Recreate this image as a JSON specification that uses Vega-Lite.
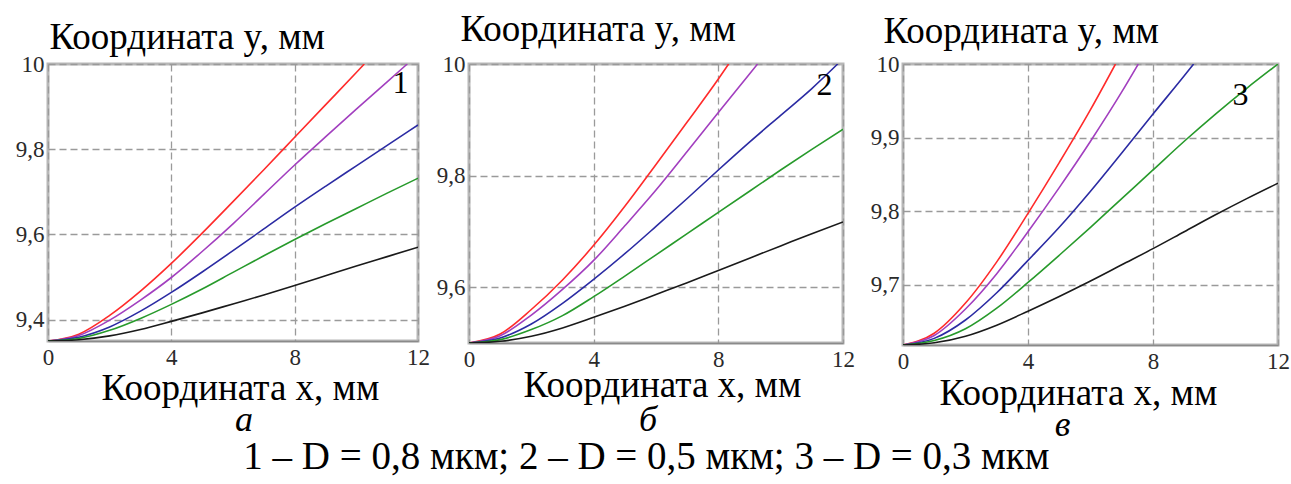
{
  "$schema": "https://vega.github.io/schema/vega-lite/v6.json",
  "autosize": {"type": "none"},
  "padding": {"left": 48, "top": 64, "right": 1243, "bottom": 420},
  "background": "white",
  "config": {
    "font": "Liberation Serif",
    "view": {"stroke": "#b8b8b8", "strokeWidth": 3},
    "axis": {
      "grid": true, "gridColor": "#9a9a9a", "gridDash": [7, 4], "gridWidth": 1.3,
      "ticks": false, "domain": false, "labelFlush": false, "labelOverlap": false,
      "labelFont": "Liberation Serif", "labelFontSize": 23, "labelColor": "#2a2a2a",
      "titleFont": "Liberation Serif", "titleFontSize": 37, "titleFontWeight": "normal", "titleColor": "#000000"
    },
    "axisX": {"domain": true, "domainColor": "#8a8a8a", "domainWidth": 1.5, "labelPadding": 5, "titleAlign": "center", "titleBaseline": "alphabetic", "titleAngle": 0},
    "axisY": {"labelPadding": 4, "titleAngle": 0, "titleAlign": "left", "titleBaseline": "alphabetic"},
    "title": {"font": "Liberation Serif", "fontWeight": "normal", "fontSize": 36, "color": "#000000"},
    "line": {"strokeWidth": 1.6, "interpolate": "monotone"}
  },
  "datasets": {
    "a": [
      {"x": 0, "y": 9.35, "c": "1"}, {"x": 1, "y": 9.366, "c": "1"}, {"x": 2, "y": 9.41, "c": "1"}, {"x": 3, "y": 9.467, "c": "1"}, {"x": 4, "y": 9.532, "c": "1"}, {"x": 5, "y": 9.603, "c": "1"}, {"x": 6, "y": 9.677, "c": "1"}, {"x": 7, "y": 9.752, "c": "1"}, {"x": 8, "y": 9.828, "c": "1"}, {"x": 9, "y": 9.904, "c": "1"}, {"x": 10, "y": 9.98, "c": "1"}, {"x": 10.26, "y": 10, "c": "1"},
      {"x": 0, "y": 9.35, "c": "2"}, {"x": 1, "y": 9.363, "c": "2"}, {"x": 2, "y": 9.399, "c": "2"}, {"x": 3, "y": 9.446, "c": "2"}, {"x": 4, "y": 9.499, "c": "2"}, {"x": 5, "y": 9.56, "c": "2"}, {"x": 6, "y": 9.625, "c": "2"}, {"x": 7, "y": 9.694, "c": "2"}, {"x": 8, "y": 9.763, "c": "2"}, {"x": 9, "y": 9.829, "c": "2"}, {"x": 10, "y": 9.894, "c": "2"}, {"x": 11, "y": 9.958, "c": "2"}, {"x": 11.65, "y": 10, "c": "2"},
      {"x": 0, "y": 9.35, "c": "3"}, {"x": 1, "y": 9.359, "c": "3"}, {"x": 2, "y": 9.383, "c": "3"}, {"x": 3, "y": 9.42, "c": "3"}, {"x": 4, "y": 9.464, "c": "3"}, {"x": 5, "y": 9.512, "c": "3"}, {"x": 6, "y": 9.562, "c": "3"}, {"x": 7, "y": 9.613, "c": "3"}, {"x": 8, "y": 9.664, "c": "3"}, {"x": 9, "y": 9.713, "c": "3"}, {"x": 10, "y": 9.761, "c": "3"}, {"x": 11, "y": 9.809, "c": "3"}, {"x": 12, "y": 9.857, "c": "3"},
      {"x": 0, "y": 9.35, "c": "4"}, {"x": 1, "y": 9.356, "c": "4"}, {"x": 2, "y": 9.375, "c": "4"}, {"x": 3, "y": 9.403, "c": "4"}, {"x": 4, "y": 9.436, "c": "4"}, {"x": 5, "y": 9.472, "c": "4"}, {"x": 6, "y": 9.511, "c": "4"}, {"x": 7, "y": 9.55, "c": "4"}, {"x": 8, "y": 9.588, "c": "4"}, {"x": 9, "y": 9.625, "c": "4"}, {"x": 10, "y": 9.661, "c": "4"}, {"x": 11, "y": 9.697, "c": "4"}, {"x": 12, "y": 9.732, "c": "4"},
      {"x": 0, "y": 9.35, "c": "5"}, {"x": 1, "y": 9.353, "c": "5"}, {"x": 2, "y": 9.362, "c": "5"}, {"x": 3, "y": 9.377, "c": "5"}, {"x": 4, "y": 9.396, "c": "5"}, {"x": 5, "y": 9.416, "c": "5"}, {"x": 6, "y": 9.437, "c": "5"}, {"x": 7, "y": 9.458, "c": "5"}, {"x": 8, "y": 9.48, "c": "5"}, {"x": 9, "y": 9.503, "c": "5"}, {"x": 10, "y": 9.526, "c": "5"}, {"x": 11, "y": 9.548, "c": "5"}, {"x": 12, "y": 9.57, "c": "5"}
    ],
    "b": [
      {"x": 0, "y": 9.5, "c": "1"}, {"x": 1, "y": 9.516, "c": "1"}, {"x": 2, "y": 9.56, "c": "1"}, {"x": 3, "y": 9.613, "c": "1"}, {"x": 4, "y": 9.675, "c": "1"}, {"x": 5, "y": 9.745, "c": "1"}, {"x": 6, "y": 9.82, "c": "1"}, {"x": 7, "y": 9.896, "c": "1"}, {"x": 8, "y": 9.973, "c": "1"}, {"x": 8.33, "y": 10, "c": "1"},
      {"x": 0, "y": 9.5, "c": "2"}, {"x": 1, "y": 9.513, "c": "2"}, {"x": 2, "y": 9.55, "c": "2"}, {"x": 3, "y": 9.596, "c": "2"}, {"x": 4, "y": 9.648, "c": "2"}, {"x": 5, "y": 9.71, "c": "2"}, {"x": 6, "y": 9.774, "c": "2"}, {"x": 7, "y": 9.843, "c": "2"}, {"x": 8, "y": 9.913, "c": "2"}, {"x": 9, "y": 9.982, "c": "2"}, {"x": 9.26, "y": 10, "c": "2"},
      {"x": 0, "y": 9.5, "c": "3"}, {"x": 1, "y": 9.509, "c": "3"}, {"x": 2, "y": 9.534, "c": "3"}, {"x": 3, "y": 9.571, "c": "3"}, {"x": 4, "y": 9.614, "c": "3"}, {"x": 5, "y": 9.66, "c": "3"}, {"x": 6, "y": 9.709, "c": "3"}, {"x": 7, "y": 9.759, "c": "3"}, {"x": 8, "y": 9.81, "c": "3"}, {"x": 9, "y": 9.86, "c": "3"}, {"x": 10, "y": 9.908, "c": "3"}, {"x": 11, "y": 9.956, "c": "3"}, {"x": 11.83, "y": 10, "c": "3"},
      {"x": 0, "y": 9.5, "c": "4"}, {"x": 1, "y": 9.506, "c": "4"}, {"x": 2, "y": 9.524, "c": "4"}, {"x": 3, "y": 9.549, "c": "4"}, {"x": 4, "y": 9.583, "c": "4"}, {"x": 5, "y": 9.62, "c": "4"}, {"x": 6, "y": 9.658, "c": "4"}, {"x": 7, "y": 9.696, "c": "4"}, {"x": 8, "y": 9.734, "c": "4"}, {"x": 9, "y": 9.772, "c": "4"}, {"x": 10, "y": 9.81, "c": "4"}, {"x": 11, "y": 9.847, "c": "4"}, {"x": 12, "y": 9.883, "c": "4"},
      {"x": 0, "y": 9.5, "c": "5"}, {"x": 1, "y": 9.503, "c": "5"}, {"x": 2, "y": 9.512, "c": "5"}, {"x": 3, "y": 9.527, "c": "5"}, {"x": 4, "y": 9.546, "c": "5"}, {"x": 5, "y": 9.566, "c": "5"}, {"x": 6, "y": 9.587, "c": "5"}, {"x": 7, "y": 9.608, "c": "5"}, {"x": 8, "y": 9.63, "c": "5"}, {"x": 9, "y": 9.652, "c": "5"}, {"x": 10, "y": 9.674, "c": "5"}, {"x": 11, "y": 9.696, "c": "5"}, {"x": 12, "y": 9.717, "c": "5"}
    ],
    "c": [
      {"x": 0, "y": 9.618, "c": "1"}, {"x": 1, "y": 9.634, "c": "1"}, {"x": 2, "y": 9.675, "c": "1"}, {"x": 3, "y": 9.731, "c": "1"}, {"x": 4, "y": 9.797, "c": "1"}, {"x": 5, "y": 9.866, "c": "1"}, {"x": 6, "y": 9.938, "c": "1"}, {"x": 6.8, "y": 10, "c": "1"},
      {"x": 0, "y": 9.618, "c": "2"}, {"x": 1, "y": 9.631, "c": "2"}, {"x": 2, "y": 9.667, "c": "2"}, {"x": 3, "y": 9.715, "c": "2"}, {"x": 4, "y": 9.772, "c": "2"}, {"x": 5, "y": 9.832, "c": "2"}, {"x": 6, "y": 9.895, "c": "2"}, {"x": 7, "y": 9.962, "c": "2"}, {"x": 7.53, "y": 10, "c": "2"},
      {"x": 0, "y": 9.618, "c": "3"}, {"x": 1, "y": 9.627, "c": "3"}, {"x": 2, "y": 9.652, "c": "3"}, {"x": 3, "y": 9.689, "c": "3"}, {"x": 4, "y": 9.733, "c": "3"}, {"x": 5, "y": 9.778, "c": "3"}, {"x": 6, "y": 9.827, "c": "3"}, {"x": 7, "y": 9.879, "c": "3"}, {"x": 8, "y": 9.932, "c": "3"}, {"x": 9, "y": 9.984, "c": "3"}, {"x": 9.3, "y": 10, "c": "3"},
      {"x": 0, "y": 9.618, "c": "4"}, {"x": 1, "y": 9.624, "c": "4"}, {"x": 2, "y": 9.64, "c": "4"}, {"x": 3, "y": 9.668, "c": "4"}, {"x": 4, "y": 9.703, "c": "4"}, {"x": 5, "y": 9.74, "c": "4"}, {"x": 6, "y": 9.778, "c": "4"}, {"x": 7, "y": 9.817, "c": "4"}, {"x": 8, "y": 9.856, "c": "4"}, {"x": 9, "y": 9.895, "c": "4"}, {"x": 10, "y": 9.932, "c": "4"}, {"x": 11, "y": 9.967, "c": "4"}, {"x": 12, "y": 10, "c": "4"},
      {"x": 0, "y": 9.618, "c": "5"}, {"x": 1, "y": 9.621, "c": "5"}, {"x": 2, "y": 9.63, "c": "5"}, {"x": 3, "y": 9.645, "c": "5"}, {"x": 4, "y": 9.664, "c": "5"}, {"x": 5, "y": 9.684, "c": "5"}, {"x": 6, "y": 9.705, "c": "5"}, {"x": 7, "y": 9.727, "c": "5"}, {"x": 8, "y": 9.749, "c": "5"}, {"x": 9, "y": 9.772, "c": "5"}, {"x": 10, "y": 9.795, "c": "5"}, {"x": 11, "y": 9.817, "c": "5"}, {"x": 12, "y": 9.838, "c": "5"}
    ]
  },
  "title": {
    "text": "1 – D = 0,8 мкм; 2 – D = 0,5 мкм; 3 – D = 0,3 мкм",
    "orient": "bottom", "anchor": "middle", "fontSize": 39, "offset": -7, "dx": -6
  },
  "spacing": 51,
  "bounds": "flush",
  "hconcat": [
    {
      "width": 370, "height": 277,
      "title": {"text": "а", "orient": "bottom", "fontStyle": "italic", "anchor": "middle", "frame": "group", "dx": 11, "offset": -3},
      "layer": [
        {
          "data": {"name": "a"},
          "mark": {"type": "line", "clip": true},
          "encoding": {
            "x": {"field": "x", "type": "quantitative", "scale": {"domain": [0, 12], "nice": false, "zero": false},
                  "axis": {"values": [0, 4, 8, 12], "title": "Координата x, мм", "titleX": 192, "titleY": 58}},
            "y": {"field": "y", "type": "quantitative", "scale": {"domain": [9.35, 10], "nice": false, "zero": false},
                  "axis": {"values": [9.4, 9.6, 9.8, 10], "labelExpr": "datum.value >= 10 ? '10' : replace(format(datum.value, '.1f'), '.', ',')",
                           "title": "Координата y, мм", "titleX": 1, "titleY": -16}},
            "color": {"field": "c", "type": "nominal", "legend": null,
                      "scale": {"domain": ["1", "2", "3", "4", "5"], "range": ["#ff2b2b", "#a23fbf", "#2b2ba3", "#279a2b", "#1a1a1a"]}},
            "detail": {"field": "c"}
          }
        },
        {
          "data": {"values": [{"x": 11.43, "y": 9.955, "t": "1"}]},
          "mark": {"type": "text", "font": "Liberation Serif", "fontSize": 32, "color": "#000"},
          "encoding": {"x": {"field": "x", "type": "quantitative"}, "y": {"field": "y", "type": "quantitative"}, "text": {"field": "t"}}
        }
      ]
    },
    {
      "spacing": 60,
      "bounds": "flush",
      "hconcat": [
        {
          "width": 374, "height": 279,
          "title": {"text": "б", "orient": "bottom", "fontStyle": "italic", "anchor": "middle", "frame": "group", "dx": -8, "offset": 0},
          "layer": [
            {
              "data": {"name": "b"},
              "mark": {"type": "line", "clip": true},
              "encoding": {
                "x": {"field": "x", "type": "quantitative", "scale": {"domain": [0, 12], "nice": false, "zero": false},
                      "axis": {"values": [0, 4, 8, 12], "title": "Координата x, мм", "titleX": 193, "titleY": 53}},
                "y": {"field": "y", "type": "quantitative", "scale": {"domain": [9.5, 10], "nice": false, "zero": false},
                      "axis": {"values": [9.6, 9.8, 10], "labelExpr": "datum.value >= 10 ? '10' : replace(format(datum.value, '.1f'), '.', ',')",
                               "title": "Координата y, мм", "titleX": -9, "titleY": -24}},
                "color": {"field": "c", "type": "nominal", "legend": null,
                          "scale": {"domain": ["1", "2", "3", "4", "5"], "range": ["#ff2b2b", "#a23fbf", "#2b2ba3", "#279a2b", "#1a1a1a"]}},
                "detail": {"field": "c"}
              }
            },
            {
              "data": {"values": [{"x": 11.41, "y": 9.962, "t": "2"}]},
              "mark": {"type": "text", "font": "Liberation Serif", "fontSize": 32, "color": "#000"},
              "encoding": {"x": {"field": "x", "type": "quantitative"}, "y": {"field": "y", "type": "quantitative"}, "text": {"field": "t"}}
            }
          ]
        },
        {
          "width": 375, "height": 281,
          "title": {"text": "в", "orient": "bottom", "fontStyle": "italic", "anchor": "middle", "frame": "group", "dx": -28, "offset": -3},
          "layer": [
            {
              "data": {"name": "c"},
              "mark": {"type": "line", "clip": true},
              "encoding": {
                "x": {"field": "x", "type": "quantitative", "scale": {"domain": [0, 12], "nice": false, "zero": false},
                      "axis": {"values": [0, 4, 8, 12], "title": "Координата x, мм", "titleX": 175, "titleY": 59}},
                "y": {"field": "y", "type": "quantitative", "scale": {"domain": [9.618, 10], "nice": false, "zero": false},
                      "axis": {"values": [9.7, 9.8, 9.9, 10], "labelExpr": "datum.value >= 10 ? '10' : replace(format(datum.value, '.1f'), '.', ',')",
                               "title": "Координата y, мм", "titleX": -20, "titleY": -22}},
                "color": {"field": "c", "type": "nominal", "legend": null,
                          "scale": {"domain": ["1", "2", "3", "4", "5"], "range": ["#ff2b2b", "#a23fbf", "#2b2ba3", "#279a2b", "#1a1a1a"]}},
                "detail": {"field": "c"}
              }
            },
            {
              "data": {"values": [{"x": 10.8, "y": 9.958, "t": "3"}]},
              "mark": {"type": "text", "font": "Liberation Serif", "fontSize": 32, "color": "#000"},
              "encoding": {"x": {"field": "x", "type": "quantitative"}, "y": {"field": "y", "type": "quantitative"}, "text": {"field": "t"}}
            }
          ]
        }
      ]
    }
  ]
}
